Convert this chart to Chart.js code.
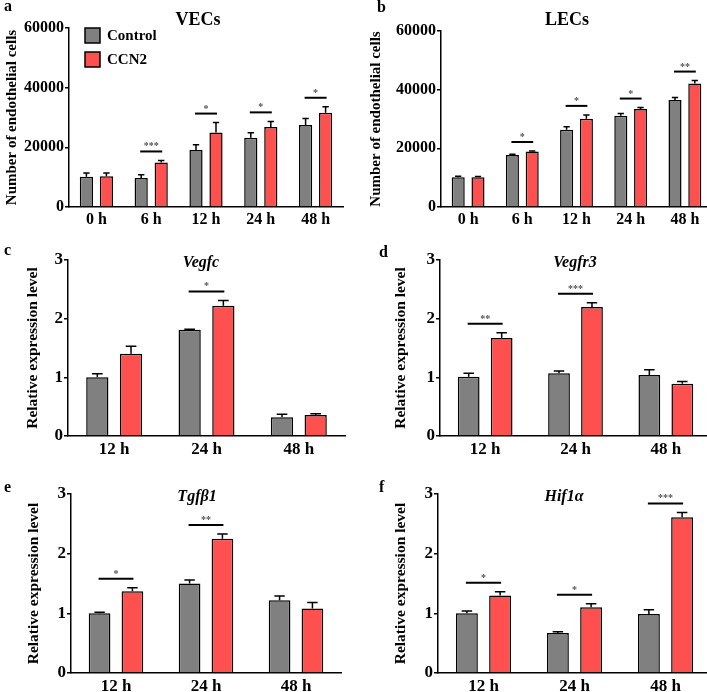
<!DOCTYPE html>
<html>
<head>
<meta charset="utf-8">
<script src="https://cdn.jsdelivr.net/npm/chart.js@4.4.1/dist/chart.umd.min.js"></script>
<style>
  html, body { margin: 0; padding: 0; background: #fff; }
  body { position: relative; width: 707px; height: 692px; overflow: hidden; }
  canvas { position: absolute; }
</style>
</head>
<body>
<script>
// ---- data ----
const seriesNames = ["Control", "CCN2"];
const cellTimes = ["0 h", "6 h", "12 h", "24 h", "48 h"];
const geneTimes = ["12 h", "24 h", "48 h"];

// a: VECs cell counts
const vecControl = [10100, 9700, 19100, 23200, 27500];
const vecControlErr = [1300, 1100, 1800, 1700, 2200];
const vecCcn2 = [10300, 14900, 25000, 26800, 31600];
const vecCcn2Err = [1100, 700, 3300, 1900, 2000];
const vecSig = ["", "***", "*", "*", "*"];

// b: LECs cell counts
const lecControl = [10100, 17700, 26300, 31100, 36500];
const lecControlErr = [400, 300, 1100, 800, 800];
const lecCcn2 = [10100, 18900, 30100, 33400, 42100];
const lecCcn2Err = [300, 200, 1300, 500, 1000];
const lecSig = ["", "*", "*", "*", "**"];

// c: Vegfc
const vegfcControl = [1.00, 1.81, 0.32];
const vegfcControlErr = [0.06, 0.01, 0.05];
const vegfcCcn2 = [1.40, 2.22, 0.36];
const vegfcCcn2Err = [0.13, 0.09, 0.02];
const vegfcSig = ["", "*", ""];

// d: Vegfr3
const vegfr3Control = [1.01, 1.07, 1.04];
const vegfr3ControlErr = [0.06, 0.04, 0.09];
const vegfr3Ccn2 = [1.67, 2.20, 0.89];
const vegfr3Ccn2Err = [0.09, 0.07, 0.04];
const vegfr3Sig = ["**", "***", ""];

// e: Tgfb1
const tgfb1Control = [1.00, 1.50, 1.22];
const tgfb1ControlErr = [0.02, 0.06, 0.07];
const tgfb1Ccn2 = [1.37, 2.25, 1.08];
const tgfb1Ccn2Err = [0.06, 0.08, 0.10];
const tgfb1Sig = ["*", "**", ""];

// f: Hif1a
const hif1aControl = [1.00, 0.67, 0.99];
const hif1aControlErr = [0.04, 0.02, 0.07];
const hif1aCcn2 = [1.30, 1.10, 2.61];
const hif1aCcn2Err = [0.06, 0.06, 0.08];
const hif1aSig = ["*", "*", "***"];

const cellTicksMax = 60000, cellTicksStep = 20000;
const geneTicksMax = 3, geneTicksStep = 1;

// ---- look ----
const FONT = '"Liberation Serif", "Times New Roman", serif';
const controlColor = "#808080";
const ccn2Color = "#ff5050";

Chart.defaults.font.family = FONT;
Chart.defaults.font.weight = "bold";
Chart.defaults.color = "#000";

const panels = [
  { letter: "a", title: "VECs", italic: false, yTitle: "Number of endothelial cells",
    labels: cellTimes, control: vecControl, controlErr: vecControlErr, ccn2: vecCcn2, ccn2Err: vecCcn2Err, sig: vecSig,
    max: cellTicksMax, step: cellTicksStep,
    box: { x: 0, y: 0, w: 354, h: 230 }, area: { l: 69, t: 28, r: 343, b: 207 },
    yTitlePad: 3, yTitleSize: 15, tickSize: 16, letterAt: [4, 11], titleAt: [198, 25], legend: true },
  { letter: "b", title: "LECs", italic: false, yTitle: "Number of endothelial cells",
    labels: cellTimes, control: lecControl, controlErr: lecControlErr, ccn2: lecCcn2, ccn2Err: lecCcn2Err, sig: lecSig,
    max: cellTicksMax, step: cellTicksStep,
    box: { x: 354, y: 0, w: 358, h: 230 }, area: { l: 87, t: 31, r: 358, b: 207 },
    yTitlePad: 13.5, yTitleSize: 15, tickSize: 16, letterAt: [23, 12], titleAt: [213, 25] },
  { letter: "c", title: "Vegfc", italic: true, yTitle: "Relative expression level",
    labels: geneTimes, control: vegfcControl, controlErr: vegfcControlErr, ccn2: vegfcCcn2, ccn2Err: vegfcCcn2Err, sig: vegfcSig,
    max: geneTicksMax, step: geneTicksStep,
    box: { x: 0, y: 230, w: 354, h: 230 }, area: { l: 68, t: 30, r: 345, b: 206 },
    yTitlePad: 23.5, yTitleSize: 15.5, tickSize: 17, letterAt: [4, 25], titleAt: [201, 37] },
  { letter: "d", title: "Vegfr3", italic: true, yTitle: "Relative expression level",
    labels: geneTimes, control: vegfr3Control, controlErr: vegfr3ControlErr, ccn2: vegfr3Ccn2, ccn2Err: vegfr3Ccn2Err, sig: vegfr3Sig,
    max: geneTicksMax, step: geneTicksStep,
    box: { x: 354, y: 230, w: 358, h: 230 }, area: { l: 86, t: 30, r: 357, b: 206 },
    yTitlePad: 38, yTitleSize: 15.5, tickSize: 17, letterAt: [25, 27], titleAt: [221, 37] },
  { letter: "e", title: "Tgfβ1", italic: true, yTitle: "Relative expression level",
    labels: geneTimes, control: tgfb1Control, controlErr: tgfb1ControlErr, ccn2: tgfb1Ccn2, ccn2Err: tgfb1Ccn2Err, sig: tgfb1Sig,
    max: geneTicksMax, step: geneTicksStep,
    box: { x: 0, y: 460, w: 354, h: 232 }, area: { l: 71, t: 34, r: 341, b: 213 },
    yTitlePad: 24.5, yTitleSize: 15.5, tickSize: 17, letterAt: [4, 32], titleAt: [197, 41] },
  { letter: "f", title: "Hif1α", italic: true, yTitle: "Relative expression level",
    labels: geneTimes, control: hif1aControl, controlErr: hif1aControlErr, ccn2: hif1aCcn2, ccn2Err: hif1aCcn2Err, sig: hif1aSig,
    max: geneTicksMax, step: geneTicksStep,
    box: { x: 354, y: 460, w: 358, h: 232 }, area: { l: 84, t: 34, r: 357, b: 213 },
    yTitlePad: 37.5, yTitleSize: 15.5, tickSize: 17, letterAt: [25, 32], titleAt: [210, 41] },
];

// error bars, significance bars, panel letter, title and legend
function makeDecor(p) {
  return {
    id: "decor",
    afterDatasetsDraw(chart) {
      const ctx = chart.ctx;
      const ys = chart.scales.y;
      const metas = chart.data.datasets.map((ds, di) => chart.getDatasetMeta(di));
      ctx.save();
      ctx.strokeStyle = "#000";
      ctx.lineWidth = 1.5;
      chart.data.datasets.forEach((ds, di) => {
        metas[di].data.forEach((bar, i) => {
          const yTop = ys.getPixelForValue(ds.data[i] + ds.errors[i]);
          const cap = bar.width * 0.24;
          ctx.beginPath();
          ctx.moveTo(bar.x, bar.y);
          ctx.lineTo(bar.x, yTop);
          ctx.moveTo(bar.x - cap, yTop);
          ctx.lineTo(bar.x + cap, yTop);
          ctx.stroke();
        });
      });

      p.sig.forEach((s, i) => {
        if (!s) return;
        const tops = chart.data.datasets.map(ds => ys.getPixelForValue(ds.data[i] + ds.errors[i]));
        const ly = Math.min(...tops) - 9;
        const x1 = metas[0].data[i].x - 1;
        const x2 = metas[1].data[i].x + 1;
        ctx.lineWidth = 2;
        ctx.beginPath();
        ctx.moveTo(x1, ly);
        ctx.lineTo(x2, ly);
        ctx.stroke();
        ctx.fillStyle = "#555";
        ctx.font = "bold 10px " + FONT;
        ctx.textAlign = "center";
        ctx.textBaseline = "alphabetic";
        ctx.fillText(s, (x1 + x2) / 2, ly - 2);
      });
      ctx.restore();
    },
    afterDraw(chart) {
      const ctx = chart.ctx;
      ctx.save();
      ctx.fillStyle = "#000";
      ctx.textBaseline = "alphabetic";
      ctx.textAlign = "left";
      ctx.font = "bold 16px " + FONT;
      ctx.fillText(p.letter, p.letterAt[0], p.letterAt[1]);

      ctx.textAlign = "center";
      ctx.font = (p.italic ? "italic bold 16px " : "bold 18px ") + FONT;
      ctx.fillText(p.title, p.titleAt[0], p.titleAt[1]);

      if (p.legend) {
        chart.data.datasets.forEach((ds, di) => {
          const bx = 85, by = 28 + di * 24;
          ctx.fillStyle = ds.backgroundColor;
          ctx.fillRect(bx, by, 15, 15);
          ctx.lineWidth = 1.5;
          ctx.strokeStyle = "#000";
          ctx.strokeRect(bx, by, 15, 15);
          ctx.fillStyle = "#000";
          ctx.font = "bold 15px " + FONT;
          ctx.textAlign = "left";
          ctx.textBaseline = "middle";
          ctx.fillText(ds.label, 107, by + 8);
        });
      }
      ctx.restore();
    }
  };
}

panels.forEach(p => {
  const canvas = document.createElement("canvas");
  canvas.width = p.box.w;
  canvas.height = p.box.h;
  canvas.style.left = p.box.x + "px";
  canvas.style.top = p.box.y + "px";
  canvas.style.width = p.box.w + "px";
  canvas.style.height = p.box.h + "px";
  document.body.appendChild(canvas);

  new Chart(canvas.getContext("2d"), {
    type: "bar",
    data: {
      labels: p.labels,
      datasets: [
        { label: seriesNames[0], data: p.control, errors: p.controlErr,
          backgroundColor: controlColor, borderColor: "#000", borderWidth: 1.5 },
        { label: seriesNames[1], data: p.ccn2, errors: p.ccn2Err,
          backgroundColor: ccn2Color, borderColor: "#000", borderWidth: 1.5 },
      ],
    },
    options: {
      responsive: false,
      animation: false,
      devicePixelRatio: 1,
      categoryPercentage: 0.73,
      barPercentage: 0.66,
      layout: { padding: { left: 0, top: p.area.t, right: p.box.w - p.area.r, bottom: 0 } },
      plugins: { legend: { display: false }, tooltip: { enabled: false }, title: { display: false } },
      scales: {
        x: {
          type: "category",
          offset: true,
          grid: { display: false, drawTicks: false },
          border: { color: "#000", width: 1.5 },
          ticks: { font: { size: p.tickSize, weight: "bold" }, padding: 3, maxRotation: 0, autoSkip: false },
          afterFit: s => { s.height = p.box.h - p.area.b; },
        },
        y: {
          min: 0,
          max: p.max,
          grid: { drawOnChartArea: false, drawTicks: true, tickLength: 4, color: "#000", lineWidth: 1.5 },
          border: { color: "#000", width: 1.5 },
          ticks: { stepSize: p.step, padding: 1, font: { size: p.tickSize, weight: "bold" }, callback: v => String(v) },
          title: { display: true, text: p.yTitle, font: { size: p.yTitleSize, weight: "bold" },
                   padding: { top: p.yTitlePad, bottom: 0 } },
          afterFit: s => { s.width = p.area.l; },
        },
      },
    },
    plugins: [makeDecor(p)],
  });
});
</script>
</body>
</html>
